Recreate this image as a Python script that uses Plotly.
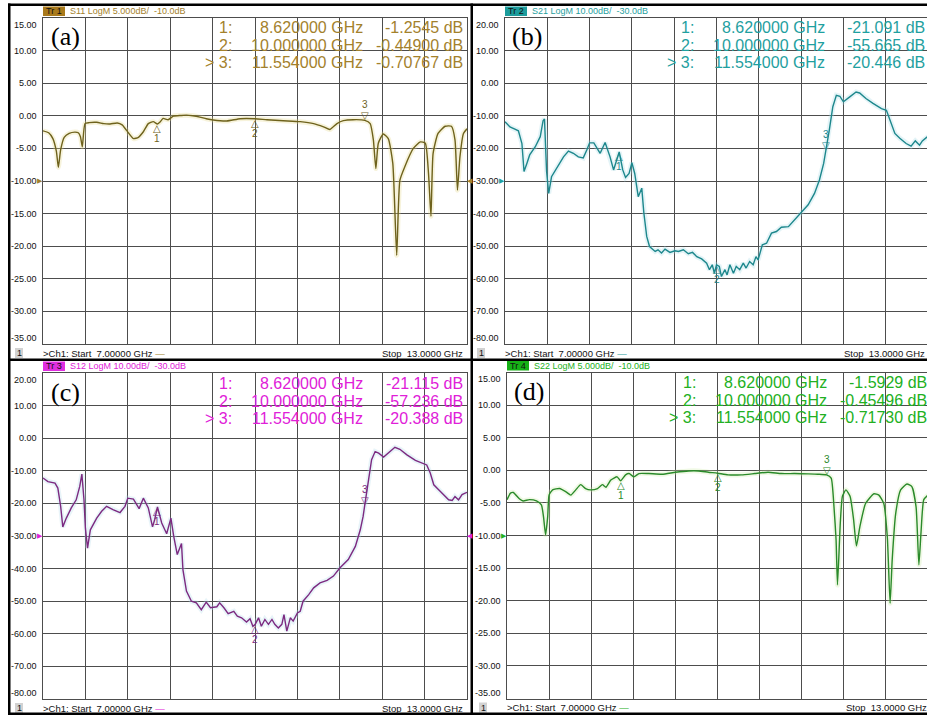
import plotly.graph_objects as go

W, H = 927, 715

# ---------------- data ----------------
freq_start = 7.0
freq_stop = 13.0

s11_freq = [7.00, 7.08, 7.14, 7.19, 7.217, 7.25, 7.30, 7.37, 7.45, 7.50, 7.53, 7.556, 7.594, 7.65, 7.76,
            7.86, 7.95, 8.05, 8.12, 8.18, 8.28, 8.35, 8.42, 8.49, 8.56, 8.62, 8.66, 8.70, 8.77, 8.845,
            8.95, 9.03, 9.12, 9.22, 9.31, 9.41, 9.60, 9.79, 10.00, 10.17, 10.40, 10.64, 10.83, 10.97,
            11.06, 11.16, 11.25, 11.39, 11.554, 11.63, 11.675, 11.71, 11.745, 11.815, 11.886, 11.95,
            12.005, 12.05, 12.12, 12.24, 12.34, 12.41, 12.455, 12.49, 12.52, 12.59, 12.69, 12.78, 12.83,
            12.865, 12.90, 12.95, 13.00]
s11_db = [-2.3, -2.6, -3.5, -5.5, -7.9, -5.2, -3.3, -2.7, -2.5, -2.6, -3.2, -4.75, -1.2, -1.05, -1.0,
          -1.2, -1.25, -1.1, -1.4, -2.2, -3.5, -3.3, -2.45, -1.2, -0.9, -1.25, -0.9, -0.4, -0.6, -0.05,
          0.05, 0.1, 0.0, -0.2, -0.45, -0.65, -0.8, -0.45, -0.45, -0.6, -0.75, -0.9, -1.2, -1.7,
          -2.1, -1.2, -0.75, -0.6, -0.7, -1.2, -3.7, -8.1, -4.2, -2.8, -3.5, -7.3,
          -21.4, -9.9, -7.8, -5.0, -4.0, -4.2, -8.8, -15.4, -5.8, -2.7, -1.6, -1.6, -3.7,
          -11.4, -6.3, -2.7, -2.0]

s21_freq = [7.00, 7.07, 7.14, 7.19, 7.24, 7.27, 7.31, 7.35, 7.43, 7.50,
            7.54, 7.56, 7.59, 7.62, 7.66, 7.73, 7.83, 7.90, 7.97, 8.04,
            8.11, 8.16, 8.20, 8.26, 8.35, 8.42, 8.49, 8.54, 8.58, 8.62,
            8.67, 8.71, 8.76, 8.80, 8.84, 8.89, 8.94, 8.97, 9.01, 9.05,
            9.13, 9.17, 9.22, 9.27, 9.34, 9.41, 9.46, 9.53, 9.60, 9.66,
            9.72, 9.79, 9.86, 9.90, 9.94, 9.97, 10.00, 10.04, 10.07, 10.12,
            10.15, 10.19, 10.24, 10.28, 10.33, 10.38, 10.42, 10.47, 10.52, 10.56,
            10.59, 10.65, 10.71, 10.78, 10.85, 10.92, 11.02, 11.11, 11.20, 11.30,
            11.39, 11.46, 11.52, 11.554, 11.60, 11.65, 11.70, 11.75, 11.80, 11.89,
            11.98, 12.03, 12.12, 12.22, 12.34, 12.41, 12.46, 12.53, 12.60, 12.69,
            12.76, 12.82, 12.88, 12.92, 12.98, 13.00]
s21_db = [-11.8, -13.4, -14.1, -14.6, -18.5, -27.1, -24.6, -22.0, -19.5, -16.4,
          -11.5, -11.0, -27.1, -33.8, -28.7, -26.1, -22.6, -20.8, -21.5, -22.6,
          -22.9, -20.5, -18.3, -18.3, -21.5, -18.2, -22.6, -26.6, -24.1, -21.1,
          -26.6, -28.9, -27.7, -24.4, -27.7, -34.8, -32.2, -39.9, -47.0, -50.1,
          -51.6, -51.1, -52.1, -50.9, -51.9, -51.4, -51.6, -51.1, -52.3, -51.9,
          -53.2, -53.9, -55.2, -57.2, -55.7, -58.3, -55.7, -56.2, -59.3, -57.2,
          -58.8, -55.7, -58.3, -56.2, -57.2, -55.2, -56.7, -54.7, -55.7, -53.2,
          -54.2, -49.6, -49.1, -46.0, -45.5, -44.2, -44.0, -41.9, -39.9, -37.3,
          -33.8, -29.7, -24.6, -20.4, -14.4, -7.2, -3.7, -4.0, -5.7, -4.2,
          -2.7, -3.0, -4.7, -6.2, -7.8, -8.3, -11.3, -15.4, -16.9, -18.5,
          -19.3, -17.7, -19.0, -17.7, -16.6, -16.4]

s12_freq = [7.00, 7.07, 7.17, 7.21, 7.25, 7.28, 7.33, 7.40, 7.47, 7.52,
            7.55, 7.58, 7.60, 7.63, 7.67, 7.76, 7.83, 7.90, 7.99, 8.09,
            8.16, 8.20, 8.28, 8.36, 8.42, 8.49, 8.55, 8.58, 8.62, 8.68,
            8.75, 8.81, 8.85, 8.90, 8.96, 8.98, 9.03, 9.10, 9.17, 9.24,
            9.31, 9.37, 9.46, 9.50, 9.56, 9.62, 9.70, 9.75, 9.81, 9.88,
            9.93, 9.97, 10.00, 10.05, 10.09, 10.14, 10.19, 10.24, 10.28, 10.33,
            10.38, 10.41, 10.45, 10.50, 10.54, 10.60, 10.64, 10.68, 10.76, 10.83,
            10.92, 11.02, 11.11, 11.20, 11.32, 11.42, 11.49, 11.53, 11.554, 11.60,
            11.65, 11.70, 11.75, 11.82, 11.89, 11.98, 12.05, 12.15, 12.27, 12.36,
            12.43, 12.48, 12.53, 12.62, 12.74, 12.79, 12.83, 12.88, 12.93, 13.00]
s12_db = [-12.2, -13.3, -13.8, -15.3, -20.9, -27.2, -24.5, -21.4, -18.9, -14.8,
          -11.0, -18.9, -27.6, -33.7, -28.1, -24.5, -22.4, -20.9, -21.9, -22.8,
          -20.9, -18.4, -18.7, -21.6, -18.4, -21.4, -27.2, -25.0, -21.1, -26.0,
          -29.3, -24.5, -30.1, -35.7, -32.3, -40.3, -46.9, -50.0, -50.5, -52.6,
          -50.3, -52.0, -51.7, -50.5, -52.0, -53.8, -53.1, -54.6, -55.1, -56.4,
          -55.4, -57.7, -57.2, -55.1, -57.7, -55.6, -57.1, -55.6, -57.1, -58.2,
          -57.1, -54.1, -59.2, -55.1, -56.1, -53.6, -53.1, -50.0, -48.0, -45.9,
          -44.4, -43.6, -42.3, -39.8, -37.2, -33.2, -28.1, -24.0, -20.4, -13.8,
          -6.6, -4.1, -4.6, -5.8, -4.6, -2.8, -3.4, -5.1, -6.8, -7.6,
          -8.2, -10.7, -14.3, -16.3, -18.9, -19.1, -17.9, -18.9, -17.3, -16.6]

s22_freq = [7.00, 7.05, 7.09, 7.18, 7.23, 7.32, 7.42, 7.49, 7.52, 7.55,
            7.58, 7.60, 7.65, 7.75, 7.84, 7.91, 7.98, 8.05, 8.12, 8.19,
            8.29, 8.36, 8.41, 8.48, 8.57, 8.62, 8.69, 8.74, 8.81, 8.88,
            9.02, 9.21, 9.40, 9.59, 9.73, 9.87, 10.00, 10.15, 10.34, 10.53,
            10.72, 10.91, 11.10, 11.29, 11.43, 11.554, 11.62, 11.66, 11.69, 11.71,
            11.75, 11.78, 11.83, 11.89, 11.94, 11.98, 12.03, 12.11, 12.23, 12.30,
            12.37, 12.42, 12.46, 12.49, 12.54, 12.61, 12.70, 12.77, 12.83, 12.87,
            12.90, 12.94, 13.00]
s22_db = [-4.5, -3.5, -3.4, -4.4, -4.7, -4.5, -4.7, -5.3, -7.1, -9.9,
          -7.1, -3.8, -3.0, -2.8, -3.3, -3.8, -3.0, -2.2, -2.8, -3.0,
          -2.8, -2.2, -2.6, -1.5, -1.0, -1.6, -0.7, -0.5, -1.0, -0.5,
          -0.5, -0.6, -0.3, -0.1, -0.1, -0.3, -0.45, -0.7, -0.7, -0.5,
          -0.3, -0.5, -0.5, -0.55, -0.6, -0.7, -1.2, -5.6, -10.7, -17.6,
          -8.1, -4.0, -3.0, -4.0, -7.6, -11.6, -8.6, -5.1, -3.6, -3.8,
          -5.1, -10.2, -20.4, -13.7, -6.6, -3.0, -2.1, -2.5, -5.6, -14.5,
          -9.6, -4.5, -3.8]

marker_ids = ["1:", "2:", "&gt; 3:"]
marker_freq = [8.62, 10.0, 11.554]
s11_marker_db = [-1.2545, -0.44900, -0.70767]
s21_marker_db = [-21.091, -55.665, -20.446]
s12_marker_db = [-21.115, -57.236, -20.388]
s22_marker_db = [-1.5929, -0.45496, -0.71730]

yticks_5db = [15, 10, 5, 0, -5, -10, -15, -20, -25, -30, -35]
yticks_10db = [20, 10, 0, -10, -20, -30, -40, -50, -60, -70, -80]

panel_labels = ["(a)", "(b)", "(c)", "(d)"]
trace_names = ["S11", "S21", "S12", "S22"]
scale_texts = ["LogM 5.000dB/  -10.0dB", "LogM 10.00dB/  -30.0dB",
               "LogM 10.00dB/  -30.0dB", "LogM 5.000dB/  -10.0dB"]
ref_levels = [-10, -30, -30, -10]
start_text = "&gt;Ch1: Start  7.00000 GHz"
stop_text = "Stop  13.0000 GHz"

freqs = [s11_freq, s21_freq, s12_freq, s22_freq]
vals = [s11_db, s21_db, s12_db, s22_db]
marker_vals = [s11_marker_db, s21_marker_db, s12_marker_db, s22_marker_db]
yticks = [yticks_5db, yticks_10db, yticks_10db, yticks_5db]

# ---------------- styling / layout ----------------
boxes = [(43, 467, 18, 344), (505, 928, 18, 344), (43, 467, 373, 699), (507, 928, 372.5, 698.5)]
line_colors = ['#6e621c', '#1d878c', '#7c2a80', '#2a8a2a']
text_colors = ['#a3812c', '#1fa0a0', '#e020d8', '#22b022']
halo_colors = ['#e6d98a', '#a9dbe8', '#b5deec', '#cdeaa8']
badge_colors = ['#a97a1c', '#1c9c9c', '#e02ee0', '#16b016']
line_shapes = ['spline', 'linear', 'linear', 'spline']
GRID = '#4d4d4d'
SANS = 'Liberation Sans, Arial, sans-serif'
SERIF = 'Liberation Serif, Times New Roman, serif'


def X(p):
    return p / W


def Y(p):
    return 1 - p / H


def fmt_val(v):
    ip = int(abs(v))
    d = 5 - len(str(ip)) if ip >= 1 else 5
    return f"{v:.{d}f} dB"


fig = go.Figure()
annotations = []
shapes = []
layout = {}

for i in range(4):
    x0, x1, y0, y1 = boxes[i]
    xe = min(x1, W)
    sfx = '' if i == 0 else str(i + 1)
    xa, ya = 'x' + sfx, 'y' + sfx
    yr = [yticks[i][-1], yticks[i][0]]
    x_end = freq_start + (freq_stop - freq_start) * (xe - x0) / (x1 - x0)

    layout['xaxis' + sfx] = dict(domain=[X(x0), X(xe)], range=[freq_start, x_end], anchor=ya,
                                 tickmode='linear', tick0=freq_start, dtick=0.6, showticklabels=False,
                                 ticks='', showgrid=True, gridcolor=GRID, gridwidth=1, zeroline=False,
                                 showline=True, mirror=True, linecolor=GRID, linewidth=1, fixedrange=True)
    layout['yaxis' + sfx] = dict(domain=[Y(y1), Y(y0)], range=yr, anchor=xa,
                                 tickmode='array', tickvals=yticks[i], showticklabels=False,
                                 ticks='', showgrid=True, gridcolor=GRID, gridwidth=1, zeroline=False,
                                 showline=True, mirror=True, linecolor=GRID, linewidth=1, fixedrange=True)

    # traces (faint halo + sharp trace)
    fig.add_trace(go.Scatter(x=freqs[i], y=vals[i], mode='lines', xaxis=xa, yaxis=ya,
                             line=dict(color=halo_colors[i], width=5, shape=line_shapes[i], smoothing=0.5),
                             opacity=0.3, hoverinfo='skip', showlegend=False))
    fig.add_trace(go.Scatter(x=freqs[i], y=vals[i], mode='lines', xaxis=xa, yaxis=ya,
                             line=dict(color=line_colors[i], width=1.4, shape=line_shapes[i], smoothing=0.5),
                             showlegend=False, name=trace_names[i]))

    # y tick labels
    for v in yticks[i]:
        ys = 0
        if v == yr[1]:
            ys = -7
        elif v == yr[0]:
            ys = 6
        annotations.append(dict(xref=xa + ' domain', yref=ya, x=0, y=v, text=f"{v:.2f}",
                                xanchor='right', yanchor='middle', xshift=-4, yshift=ys, showarrow=False,
                                font=dict(family=SANS, size=9, color='#111111')))

    # header badge + text
    shapes.append(dict(type='rect', xref='paper', yref='paper', x0=X(x0), x1=X(x0 + 22),
                       y0=Y(y0 - 2), y1=Y(y0 - 11.5), fillcolor=badge_colors[i], line=dict(width=0)))
    annotations.append(dict(xref='paper', yref='paper', x=X(x0 + 11), y=Y(y0 - 6.8), text=f"Tr {i + 1}",
                            xanchor='center', yanchor='middle', showarrow=False,
                            font=dict(family=SANS, size=9, color='#111111')))
    annotations.append(dict(xref='paper', yref='paper', x=X(x0 + 25), y=Y(y0 - 6.8),
                            text=f"{trace_names[i]} {scale_texts[i]}", xanchor='left', yanchor='middle',
                            showarrow=False, font=dict(family=SANS, size=9, color=text_colors[i])))

    # panel label
    annotations.append(dict(xref='paper', yref='paper', x=X(x0 + 22), y=Y(y0 + 19), text=panel_labels[i],
                            xanchor='center', yanchor='middle', showarrow=False,
                            font=dict(family=SERIF, size=26, color='#000000')))

    # marker table
    for k in range(3):
        ry = Y(y0 + [10, 28, 45][k])
        annotations.append(dict(xref='paper', yref='paper', x=X(x0 + 191), y=ry, text=marker_ids[k],
                                xanchor='right', yanchor='middle', showarrow=False,
                                font=dict(family=SANS, size=16, color=text_colors[i])))
        annotations.append(dict(xref='paper', yref='paper', x=X(x0 + 322), y=ry,
                                text=f"{marker_freq[k]:.6f} GHz", xanchor='right', yanchor='middle',
                                showarrow=False, font=dict(family=SANS, size=16, color=text_colors[i])))
        annotations.append(dict(xref='paper', yref='paper', x=X(x0 + 422), y=ry,
                                text=fmt_val(marker_vals[i][k]), xanchor='right', yanchor='middle',
                                showarrow=False, font=dict(family=SANS, size=16, color=text_colors[i])))

    # markers on the trace
    for k in range(3):
        if k < 2:
            annotations.append(dict(xref=xa, yref=ya, x=marker_freq[k], y=marker_vals[i][k], text='△',
                                    xanchor='center', yanchor='top', yshift=3, showarrow=False,
                                    font=dict(family='DejaVu Sans', size=10, color=line_colors[i])))
            annotations.append(dict(xref=xa, yref=ya, x=marker_freq[k], y=marker_vals[i][k], text=str(k + 1),
                                    xanchor='center', yanchor='top', yshift=-7, showarrow=False,
                                    font=dict(family=SANS, size=10, color=line_colors[i])))
        else:
            annotations.append(dict(xref=xa, yref=ya, x=marker_freq[k], y=marker_vals[i][k], text='▽',
                                    xanchor='center', yanchor='bottom', yshift=-3, showarrow=False,
                                    font=dict(family='DejaVu Sans', size=10, color=line_colors[i])))
            annotations.append(dict(xref=xa, yref=ya, x=marker_freq[k], y=marker_vals[i][k], text='3',
                                    xanchor='center', yanchor='bottom', yshift=8, showarrow=False,
                                    font=dict(family=SANS, size=10, color=line_colors[i])))

    # reference level arrows
    annotations.append(dict(xref=xa + ' domain', yref=ya, x=0, y=ref_levels[i], text='▶',
                            xanchor='right', yanchor='middle', xshift=2, showarrow=False,
                            font=dict(family='DejaVu Sans', size=7, color=text_colors[i])))
    if x1 <= W:
        annotations.append(dict(xref=xa + ' domain', yref=ya, x=1, y=ref_levels[i], text='◀',
                                xanchor='left', yanchor='middle', xshift=-2, showarrow=False,
                                font=dict(family='DejaVu Sans', size=7, color=text_colors[i])))

    # footer
    fy = y1 + 9
    shapes.append(dict(type='rect', xref='paper', yref='paper', x0=X(x0 - 28), x1=X(x0 - 20),
                       y0=Y(fy - 5), y1=Y(fy + 5), fillcolor='#d2d2d2', line=dict(width=0)))
    annotations.append(dict(xref='paper', yref='paper', x=X(x0 - 24), y=Y(fy), text='1',
                            xanchor='center', yanchor='middle', showarrow=False,
                            font=dict(family=SANS, size=9, color='#111111')))
    annotations.append(dict(xref='paper', yref='paper', x=X(x0 - 2), y=Y(fy),
                            text=f"{start_text} <span style='color:{text_colors[i]}'>—</span>",
                            xanchor='left', yanchor='middle', showarrow=False,
                            font=dict(family=SANS, size=9.5, color='#111111')))
    annotations.append(dict(xref='paper', yref='paper', x=X(x0 + 422), y=Y(fy), text=stop_text,
                            xanchor='right', yanchor='middle', showarrow=False,
                            font=dict(family=SANS, size=9.5, color='#111111')))

# thick black frame lines of the instrument screen
for (bx0, bx1, by0, by1) in [(8, 10.5, 3.5, 715), (8, 927, 3.5, 6), (470.5, 473, 3.5, 715),
                             (8, 927, 358.5, 361), (8, 927, 712.5, 715)]:
    shapes.append(dict(type='rect', xref='paper', yref='paper', x0=X(bx0), x1=X(bx1),
                       y0=Y(by1), y1=Y(by0), fillcolor='#000000', line=dict(width=0), layer='above'))

fig.update_layout(width=W, height=H, margin=dict(l=0, r=0, t=0, b=0),
                  paper_bgcolor='white', plot_bgcolor='white', showlegend=False,
                  annotations=annotations, shapes=shapes, **layout)

fig.write_html("out.html")
